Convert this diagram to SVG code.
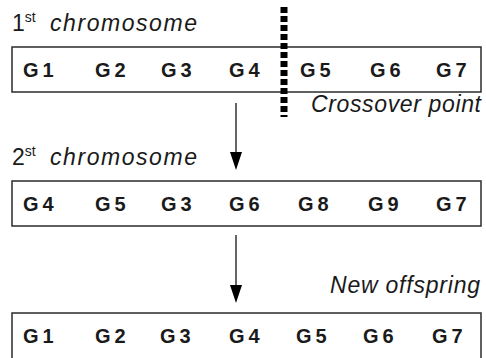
<svg xmlns="http://www.w3.org/2000/svg" width="486" height="358" viewBox="0 0 486 358">
<defs>
<style>
.box{fill:#fff;stroke:#2b2b2b;stroke-width:1.5}
.g{font-family:"Liberation Sans",Arial,sans-serif;font-weight:bold;font-size:20px;fill:#1a1a1a;letter-spacing:4px}
.lbl{font-family:"Liberation Sans",Arial,sans-serif;font-size:23px;fill:#1a1a1a}
.it{font-style:italic}
.sup{font-size:14px}
.arr{stroke:#333;stroke-width:1.5;fill:none}
</style>
<marker id="ah" markerUnits="userSpaceOnUse" markerWidth="18" markerHeight="12" refX="0" refY="6" orient="auto" viewBox="0 0 18 12">
<path d="M0,0 L18,6 L0,12 Z" fill="#000"/>
</marker>
</defs>
<g id="label1"><text class="lbl" x="12" y="31">1<tspan class="sup" dy="-9">st</tspan><tspan class="it" dy="9" x="50" textLength="147" lengthAdjust="spacing">chromosome</tspan></text></g>
<g id="chromosome1">
<rect class="box" x="12" y="47" width="469" height="45"/>
<text class="g" y="77"><tspan x="23">G1</tspan><tspan x="95">G2</tspan><tspan x="161">G3</tspan><tspan x="229">G4</tspan><tspan x="300">G5</tspan><tspan x="370">G6</tspan><tspan x="436">G7</tspan></text>
</g>
<g id="crossover">
<line x1="284" y1="7" x2="284" y2="117" stroke="#000" stroke-width="7" stroke-dasharray="6 3"/>
<text class="lbl it" x="311" y="112" textLength="170" lengthAdjust="spacing">Crossover point</text>
</g>
<g id="label2"><text class="lbl" x="12" y="165">2<tspan class="sup" dy="-9">st</tspan><tspan class="it" dy="9" x="50" textLength="147" lengthAdjust="spacing">chromosome</tspan></text></g>
<g id="chromosome2">
<rect class="box" x="12" y="181" width="469" height="45"/>
<text class="g" y="211"><tspan x="23">G4</tspan><tspan x="95">G5</tspan><tspan x="161">G3</tspan><tspan x="229">G6</tspan><tspan x="298">G8</tspan><tspan x="368">G9</tspan><tspan x="436">G7</tspan></text>
</g>
<g id="label3"><text class="lbl it" x="330" y="293" textLength="150" lengthAdjust="spacing">New offspring</text></g>
<g id="offspring">
<rect class="box" x="12" y="313" width="469" height="60"/>
<text class="g" y="343"><tspan x="23">G1</tspan><tspan x="95">G2</tspan><tspan x="160">G3</tspan><tspan x="229">G4</tspan><tspan x="296">G5</tspan><tspan x="363">G6</tspan><tspan x="432">G7</tspan></text>
</g>
<g id="connectors">
<line class="arr" x1="236" y1="103" x2="236" y2="152" marker-end="url(#ah)"/>
<line class="arr" x1="236" y1="235" x2="236" y2="285" marker-end="url(#ah)"/>
</g>
</svg>
